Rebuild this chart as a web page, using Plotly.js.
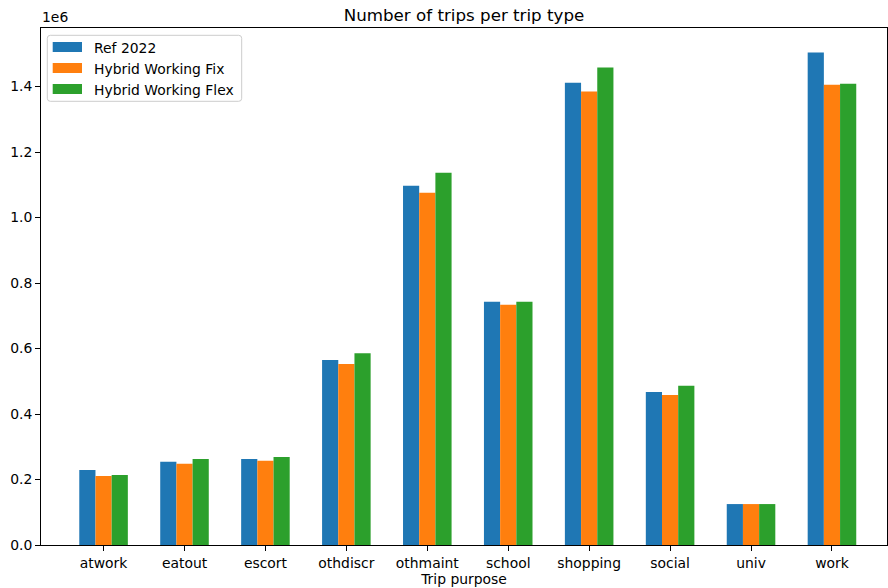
<!DOCTYPE html>
<html>
<head>
<meta charset="utf-8">
<script src="https://cdn.plot.ly/plotly-3.0.1.min.js"></script>
<style>
  html, body { margin: 0; padding: 0; background: #fff; }
  #chart { width: 888px; height: 588px; }
</style>
</head>
<body>
<div id="chart"></div>
<script>
// Trip purposes on the x axis
const categories = ['atwork', 'eatout', 'escort', 'othdiscr', 'othmaint', 'school', 'shopping', 'social', 'univ', 'work'];

// Scenario names
const seriesNames = ['Ref 2022', 'Hybrid Working Fix', 'Hybrid Working Flex'];

// Number of trips per purpose, per scenario
const ref2022    = [229000, 254000, 263000, 565000, 1097000, 743000, 1412000, 467000, 125000, 1504000];
const hybridFix  = [211000, 248000, 257000, 553000, 1076000, 734000, 1385000, 458000, 125000, 1406000];
const hybridFlex = [214000, 263000, 269000, 586000, 1137000, 743000, 1458000, 486000, 125000, 1409000];

const seriesValues = [ref2022, hybridFix, hybridFlex];
const seriesColors = ['#1f77b4', '#ff7f0e', '#2ca02c'];

const SCALE = 1e6;   // values shown in millions, with the multiplier above the axis

const W = 888, H = 588;
const M = { l: 41, r: 1, t: 28, b: 43 };
const plotW = W - M.l - M.r, plotH = H - M.t - M.b;
const px = x => (x - M.l) / plotW;          // pixel column -> paper x
const py = y => (H - M.b - y) / plotH;      // pixel row    -> paper y

const FONT = 'DejaVu Sans, Liberation Sans, sans-serif';

const traces = seriesNames.map((name, i) => ({
  type: 'bar',
  name: name,
  x: categories,
  y: seriesValues[i].map(v => v / SCALE),
  marker: { color: seriesColors[i], line: { width: 0 } },
  hoverinfo: 'x+y+name'
}));

// Hand-drawn legend box in matplotlib style
const shapes = [];
const annotations = [];
const box = { x0: 47.3, x1: 241.7, y0: 35.3, y1: 101.3, r: 3 };
const bx0 = px(box.x0), bx1 = px(box.x1), by0 = py(box.y1), by1 = py(box.y0);
const rx = box.r / plotW, ry = box.r / plotH;
shapes.push({
  type: 'path', xref: 'paper', yref: 'paper',
  path: `M ${bx0 + rx},${by1} L ${bx1 - rx},${by1} Q ${bx1},${by1} ${bx1},${by1 - ry} ` +
        `L ${bx1},${by0 + ry} Q ${bx1},${by0} ${bx1 - rx},${by0} ` +
        `L ${bx0 + rx},${by0} Q ${bx0},${by0} ${bx0},${by0 + ry} ` +
        `L ${bx0},${by1 - ry} Q ${bx0},${by1} ${bx0 + rx},${by1} Z`,
  fillcolor: 'rgba(255,255,255,0.8)',
  line: { color: '#cccccc', width: 1 },
  layer: 'above'
});
const rowY = [47, 68, 89];
seriesNames.forEach((name, i) => {
  shapes.push({
    type: 'rect', xref: 'paper', yref: 'paper',
    x0: px(52.7), x1: px(82), y0: py(rowY[i] + 5), y1: py(rowY[i] - 5),
    fillcolor: seriesColors[i], line: { width: 0 }, layer: 'above'
  });
  annotations.push({
    xref: 'paper', yref: 'paper', x: px(92), y: py(rowY[i] + 1),
    xanchor: 'left', yanchor: 'middle', showarrow: false,
    text: name, font: { family: FONT, size: 13.9, color: '#000' }
  });
});

// Offset multiplier above the y axis
annotations.push({
  xref: 'paper', yref: 'paper', x: px(40), y: 1,
  xanchor: 'left', yanchor: 'bottom', yshift: 1, showarrow: false,
  text: '1e6', font: { family: FONT, size: 13.9, color: '#000' }
});

const layout = {
  width: W, height: H,
  margin: M,
  paper_bgcolor: '#fff', plot_bgcolor: '#fff',
  font: { family: FONT, size: 13.9, color: '#000' },
  showlegend: false,
  barmode: 'group',
  bargap: 0.4,
  bargroupgap: 0,
  title: {
    text: 'Number of trips per trip type',
    font: { family: FONT, size: 16.7, color: '#000' },
    xref: 'paper', x: 0.5, xanchor: 'center',
    yref: 'container', y: 1 - 15.5 / H, yanchor: 'middle'
  },
  xaxis: {
    type: 'category',
    range: [-0.773, 9.68],
    showline: true, mirror: true, linecolor: '#000', linewidth: 1,
    ticks: 'outside', ticklen: 5, tickwidth: 1, tickcolor: '#000',
    showgrid: false, zeroline: false,
    tickfont: { family: FONT, size: 13.9, color: '#000' },
    title: { text: 'Trip purpose', font: { family: FONT, size: 13.9, color: '#000' }, standoff: 4 }
  },
  yaxis: {
    range: [0, 1.579],
    dtick: 0.2, tick0: 0, tickformat: '.1f',
    showline: true, mirror: true, linecolor: '#000', linewidth: 1,
    ticks: 'outside', ticklen: 5, tickwidth: 1, tickcolor: '#000',
    showgrid: false, zeroline: false,
    tickfont: { family: FONT, size: 13.9, color: '#000' }
  },
  shapes: shapes,
  annotations: annotations
};

Plotly.newPlot('chart', traces, layout, { displayModeBar: false, staticPlot: true });
</script>
</body>
</html>
